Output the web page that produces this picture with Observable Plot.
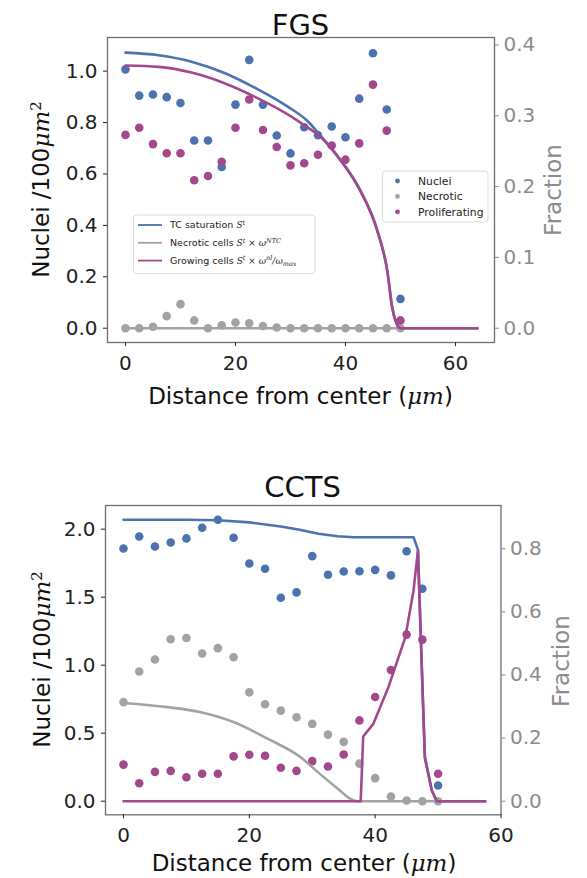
<!DOCTYPE html>
<html><head><meta charset="utf-8">
<script src="https://cdn.jsdelivr.net/npm/d3@7"></script>
<script src="https://cdn.jsdelivr.net/npm/@observablehq/plot@0.6"></script>
<style>
html,body{margin:0;padding:0;background:#fff;}
#wrap{position:relative;width:587px;height:878px;overflow:hidden;font-family:"DejaVu Sans",sans-serif;}
#wrap svg{position:absolute;left:0;}
#overlay{top:0;pointer-events:none;}
</style></head>
<body><div id="wrap"></div>
<script>
// ---------- data ----------
const distance = [0,2.5,5,7.5,10,12.5,15,17.5,20,22.5,25,27.5,30,32.5,35,37.5,40,42.5,45,47.5,50];
const xTickValues = [0,20,40,60];

// FGS (nuclei on left axis, necrotic / proliferating as fractions on right axis)
const fgsNuclei = [1.007,0.905,0.909,0.899,0.876,0.730,0.730,0.627,0.870,1.044,0.870,0.750,0.680,0.782,0.751,0.785,0.743,0.893,1.070,0.851,0.114];
const fgsNecrotic = [0,0,0.002,0.017,0.034,0.011,0,0.004,0.008,0.007,0.003,0.001,0,0,0,0,0,0,0,0,0];
const fgsProliferating = [0.273,0.283,0.260,0.247,0.247,0.209,0.215,0.235,0.283,0.323,0.280,0.256,0.230,0.233,0.245,0.258,0.238,0.261,0.344,0.279,0.011];
const fgsCurveX = [0,6,12,18,24,29.5,33,35.5,39.1,42.7,45.8,47.6,48.5,49.1,50,64];
const fgsSaturation = [1.072,1.062,1.037,0.993,0.930,0.862,0.808,0.748,0.655,0.536,0.380,0.225,0.082,0.03,0,0];
const fgsGrowing = [0.371,0.369,0.361,0.346,0.325,0.302,0.284,0.270,0.237,0.194,0.137,0.081,0.029,0.01,0,0];
const fgsNecroticCurveX = [0,64];
const fgsNecroticCurve = [0,0];
const fgsLeftTicks = [0,0.2,0.4,0.6,0.8,1.0];
const fgsRightTicks = [0,0.1,0.2,0.3,0.4];

// CCTS
const ccNuclei = [1.858,1.946,1.873,1.902,1.932,2.010,2.069,1.937,1.748,1.709,1.496,1.535,1.802,1.665,1.689,1.691,1.701,1.660,1.838,1.562,0.115];
const ccNecrotic = [0.314,0.411,0.449,0.513,0.517,0.468,0.485,0.456,0.345,0.307,0.287,0.266,0.245,0.211,0.188,0.119,0.073,0.015,0.002,0,0];
const ccProliferating = [0.116,0.057,0.093,0.096,0.076,0.087,0.087,0.142,0.147,0.144,0.106,0.096,0.127,0.110,0.148,0.256,0.330,0.416,0.528,0.512,0.087];
const ccSaturationX = [0,10,15,20,25,28,31,34,36.6,46.1,46.8,47.25,47.9,49.0,49.8,57.5];
const ccSaturation = [2.069,2.069,2.066,2.05,2.02,1.996,1.966,1.948,1.941,1.941,1.85,1.206,0.322,0.079,0,0];
const ccGrowingX = [0,37.7,38.1,39.7,42.1,44.8,46.1,46.8,47.25,47.9,49.0,49.8,57.5];
const ccGrowing = [0,0,0.205,0.245,0.361,0.52,0.668,0.795,0.52,0.139,0.034,0,0];
const ccNecroticCurveX = [0,7,12.3,17.6,22.9,28.1,31.3,34.4,36,37.1,57.5];
const ccNecroticCurve = [0.311,0.298,0.282,0.250,0.198,0.14,0.085,0.034,0.008,0,0];
const ccLeftTicks = [0,0.5,1.0,1.5,2.0];
const ccRightTicks = [0,0.2,0.4,0.6,0.8];

const BLUE = "#4c72b0", GREY = "#a3a3a3", PURPLE = "#a4488e";
const f1 = d3.format(".1f");

function panel(c) {
  const k = c.k;
  const pts = (ys, s) => distance.map((x, i) => ({x, y: ys[i] * s}));
  const ln = (xs, ys, s) => xs.map((x, i) => ({x, y: ys[i] * s}));
  const svg = Plot.plot({
    width: 587, height: c.height,
    marginTop: c.mt, marginBottom: c.mb, marginLeft: c.ml, marginRight: c.mr,
    style: {fontFamily: "DejaVu Sans, sans-serif", fontSize: "20px", background: "transparent", overflow: "visible"},
    x: {domain: c.xDomain},
    y: {domain: c.yDomain},
    marks: [
      Plot.dot(pts(c.nuclei, 1), {x: "x", y: "y", r: 4.3, fill: BLUE}),
      Plot.dot(pts(c.necrotic, k), {x: "x", y: "y", r: 4.3, fill: GREY}),
      Plot.dot(pts(c.prolif, k), {x: "x", y: "y", r: 4.3, fill: PURPLE}),
      Plot.line(ln(c.satX, c.sat, 1), {x: "x", y: "y", stroke: BLUE, strokeWidth: 2.6, curve: c.curve}),
      Plot.line(ln(c.necX, c.nec, k), {x: "x", y: "y", stroke: GREY, strokeWidth: 2.6, curve: "monotone-x"}),
      Plot.line(ln(c.growX, c.grow, k), {x: "x", y: "y", stroke: PURPLE, strokeWidth: 2.6, curve: c.curve}),
      Plot.frame({stroke: "#6e6e6e", strokeWidth: 1.3}),
      Plot.axisX(xTickValues, {tickSize: 4, tickPadding: 9, label: null, color: "#222", tickFormat: d => String(d)}),
      Plot.axisY(c.leftTicks, {anchor: "left", tickSize: 4, tickPadding: 6, label: null, color: "#222", tickFormat: f1}),
      Plot.axisY(c.rightTicks.map(f => f * k), {anchor: "right", tickSize: 4, tickPadding: 5, label: null, color: "#8c8c8c", tickFormat: d => f1(d / k)})
    ]
  });
  svg.style.top = c.top + "px";
  document.getElementById("wrap").appendChild(svg);
}

panel({
  top: 0, height: 420, mt: 37, mb: 78, ml: 107, mr: 93,
  xDomain: [-3.27, 67.1], yDomain: [-0.0556, 1.131], k: 2.755,
  nuclei: fgsNuclei, necrotic: fgsNecrotic, prolif: fgsProliferating,
  satX: fgsCurveX, sat: fgsSaturation, growX: fgsCurveX, grow: fgsGrowing,
  necX: fgsNecroticCurveX, nec: fgsNecroticCurve,
  leftTicks: fgsLeftTicks, rightTicks: fgsRightTicks, curve: "monotone-x"
});
panel({
  top: 440, height: 438, mt: 65, mb: 63.7, ml: 105, mr: 86.5,
  xDomain: [-2.86, 60], yDomain: [-0.1, 2.174], k: 2.32,
  nuclei: ccNuclei, necrotic: ccNecrotic, prolif: ccProliferating,
  satX: ccSaturationX, sat: ccSaturation, growX: ccGrowingX, grow: ccGrowing,
  necX: ccNecroticCurveX, nec: ccNecroticCurve,
  leftTicks: ccLeftTicks, rightTicks: ccRightTicks, curve: "linear"
});

// ---------- text overlay ----------
const ov = d3.select("#wrap").append("svg").attr("id", "overlay")
  .attr("width", 587).attr("height", 878)
  .attr("font-family", "DejaVu Sans, sans-serif");
const SERIF = "DejaVu Serif, serif";

function title(x, y, t) {
  ov.append("text").attr("x", x).attr("y", y).attr("text-anchor", "middle")
    .attr("font-size", 29).attr("fill", "#111").text(t);
}
function xlabel(x, y) {
  const t = ov.append("text").attr("x", x).attr("y", y).attr("text-anchor", "middle")
    .attr("font-size", 23).attr("fill", "#111");
  t.append("tspan").text("Distance from center (");
  t.append("tspan").attr("font-family", SERIF).attr("font-style", "italic").text("μm");
  t.append("tspan").text(")");
}
function ylabel(cx, cy) {
  const t = ov.append("text").attr("transform", `translate(${cx},${cy}) rotate(-90)`)
    .attr("text-anchor", "middle").attr("dy", "0.35em").attr("font-size", 23).attr("fill", "#111");
  t.append("tspan").text("Nuclei /100");
  t.append("tspan").attr("font-family", SERIF).attr("font-style", "italic").text("μm");
  t.append("tspan").attr("font-family", SERIF).attr("font-size", 15).attr("dy", "-0.55em").text("2");
}
function fraction(cx, cy) {
  ov.append("text").attr("transform", `translate(${cx},${cy}) rotate(-90)`)
    .attr("text-anchor", "middle").attr("dy", "0.35em").attr("font-size", 23)
    .attr("fill", "#8c8c8c").text("Fraction");
}
title(300.5, 35, "FGS");
title(302.5, 497, "CCTS");
xlabel(300.5, 404);
xlabel(304, 871);
ylabel(41, 189.5);
ylabel(42, 659.5);
fraction(553, 190);
fraction(561, 661);

// line legend (FGS)
const lineLegend = [
  {label: "TC saturation ", color: BLUE, math: [["S", 0], ["t", 1]]},
  {label: "Necrotic cells ", color: GREY, math: [["S", 0], ["t", 1], [" × ", 2], ["ω", 0], ["NTC", 1]]},
  {label: "Growing cells ", color: PURPLE, math: [["S", 0], ["t", 1], [" × ", 2], ["ω", 0], ["nl", 1], ["/ω", 2], ["max", 3]]}
];
ov.append("rect").attr("x", 133.5).attr("y", 215).attr("width", 181.5).attr("height", 58.5)
  .attr("rx", 3).attr("fill", "rgba(255,255,255,0.85)").attr("stroke", "#dcdcdc");
lineLegend.forEach((e, i) => {
  const y = 225 + i * 17.8;
  ov.append("line").attr("x1", 138).attr("x2", 162).attr("y1", y).attr("y2", y)
    .attr("stroke", e.color).attr("stroke-width", 1.8);
  const t = ov.append("text").attr("x", 170).attr("y", y).attr("dy", "0.35em")
    .attr("font-size", 9.5).attr("fill", "#222");
  t.append("tspan").text(e.label);
  let level = 0;
  e.math.forEach(([s, kind]) => {
    const sp = t.append("tspan").attr("font-family", SERIF).attr("font-style", "italic");
    let target = kind === 1 ? -3.5 : kind === 3 ? 2 : 0;
    sp.attr("dy", target - level).attr("font-size", kind === 1 || kind === 3 ? 6.5 : 9).text(s);
    if (kind === 2) sp.attr("font-style", s.includes("ω") ? "italic" : "normal");
    level = target;
  });
});

// point legend (FGS)
const pointLegend = [["Nuclei", BLUE], ["Necrotic", GREY], ["Proliferating", PURPLE]];
ov.append("rect").attr("x", 382.5).attr("y", 171).attr("width", 105.5).attr("height", 51)
  .attr("rx", 3).attr("fill", "rgba(255,255,255,0.85)").attr("stroke", "#dcdcdc");
pointLegend.forEach(([lab, col], i) => {
  const y = 181 + i * 15.4;
  ov.append("circle").attr("cx", 397.5).attr("cy", y).attr("r", 2.4).attr("fill", col);
  ov.append("text").attr("x", 418).attr("y", y).attr("dy", "0.35em")
    .attr("font-size", 10.8).attr("fill", "#222").text(lab);
});
</script>
</body></html>
